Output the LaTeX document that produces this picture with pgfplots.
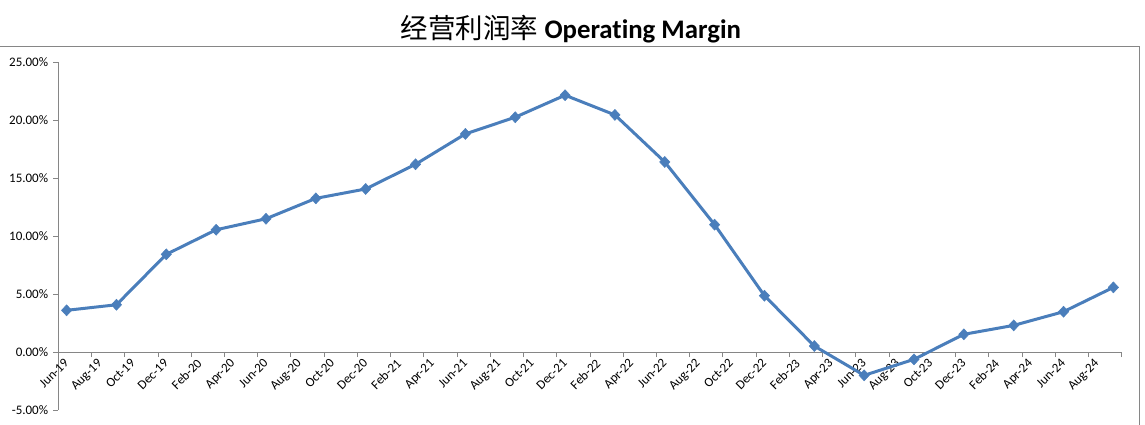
\documentclass[border=0pt]{standalone}
\usepackage{pgfplots}
\pgfplotsset{compat=1.18}
\usepackage{fontspec}
\setmainfont{Carlito}[Ligatures=NoCommon]
\newfontfamily\cjk{Noto Sans CJK SC}
\definecolor{serie}{HTML}{4A7EBB}
\definecolor{axgray}{HTML}{868686}
\begin{document}
\begin{tikzpicture}
\useasboundingbox (0pt,0pt) rectangle (1145pt,425pt);
\draw[axgray, line width=1pt] (0pt,378pt) -- (1139.3pt,378pt) -- (1139.3pt,0pt);
\node[anchor=base] at (571pt,386pt) {{\cjk\fontsize{27.5}{30}\selectfont 经营利润率}{\fontsize{26.8}{30}\selectfont\bfseries\ Operating Margin}};
\begin{axis}[
  at={(58.3pt,15pt)}, anchor=south west,
  scale only axis, width=1063.4pt, height=347.7pt,
  xmin=0, xmax=64, ymin=-5, ymax=25,
  axis x line*=middle, axis y line*=left,
  axis line style={axgray, line width=0.9pt},
  hide obscured x ticks=false, hide obscured y ticks=false,
  tick align=outside, major tick length=5pt,
  tick style={axgray, line width=0.9pt},
  xtick={0,2,...,64},
  xticklabels={Jun-19,Aug-19,Oct-19,Dec-19,Feb-20,Apr-20,Jun-20,Aug-20,Oct-20,Dec-20,Feb-21,Apr-21,Jun-21,Aug-21,Oct-21,Dec-21,Feb-22,Apr-22,Jun-22,Aug-22,Oct-22,Dec-22,Feb-23,Apr-23,Jun-23,Aug-23,Oct-23,Dec-23,Feb-24,Apr-24,Jun-24,Aug-24,{}},
  x tick label style={rotate=45, anchor=north east, font=\fontsize{13}{15}\selectfont, inner sep=1pt, xshift=4pt, yshift=-3pt},
  ytick={-5,0,5,10,15,20,25},
  yticklabels={-5.00\%,0.00\%,5.00\%,10.00\%,15.00\%,20.00\%,25.00\%},
  y tick label style={font=\fontsize{13}{15}\selectfont, inner sep=2pt, xshift=-3pt},
  clip=false,
]
\addplot[serie, line width=3pt, mark=diamond*, mark size=5.5pt, mark options={fill=serie, line width=0.5pt, xscale=1.25}] coordinates {
(0.5,3.60) (3.5,4.08) (6.5,8.43) (9.5,10.55) (12.5,11.50) (15.5,13.26)
(18.5,14.07) (21.5,16.20) (24.5,18.82) (27.5,20.26) (30.5,22.16) (33.5,20.46)
(36.5,16.40) (39.5,10.99) (42.5,4.86) (45.5,0.52) (48.5,-2.01) (51.5,-0.63)
(54.5,1.53) (57.5,2.30) (60.5,3.48) (63.5,5.58)
};
\end{axis}
\end{tikzpicture}
\end{document}
